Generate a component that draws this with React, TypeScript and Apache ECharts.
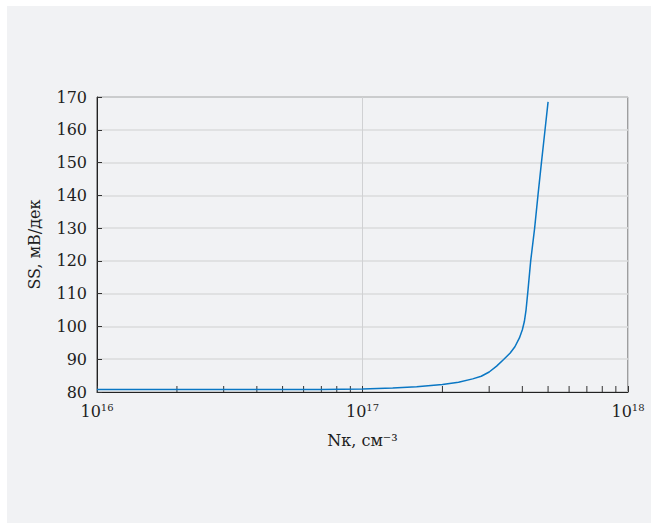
import React, { useEffect, useRef } from "react";
import * as echarts from "echarts";

// Doping concentration (cm^-3) and subthreshold swing (mV/dec)
const concentration = [
  1e16, 2e16, 3e16, 5e16, 7e16, 1e17, 1.3e17, 1.6e17, 2e17, 2.3e17, 2.6e17,
  2.8e17, 3.0e17, 3.2e17, 3.4e17, 3.6e17, 3.75e17, 3.9e17, 4.0e17, 4.07e17,
  4.13e17, 4.2e17, 4.3e17, 4.45e17, 4.58e17, 4.72e17, 4.87e17, 5.0e17,
];
const swing = [
  80.8, 80.8, 80.8, 80.8, 80.8, 80.9, 81.2, 81.6, 82.3, 83.0, 84.0, 84.8, 86.1,
  87.9, 89.9, 91.9, 93.8, 96.5, 99.0, 101.5, 105, 111, 120, 130, 140, 150, 160,
  168.5,
];

// Minor tick positions on the logarithmic x axis
const minorTicks = [
  2e16, 3e16, 4e16, 5e16, 6e16, 7e16, 8e16, 9e16,
  2e17, 3e17, 4e17, 5e17, 6e17, 7e17, 8e17, 9e17,
];

const xMin = 1e16;
const xMax = 1e18;
const yMin = 80;
const yMax = 170;
const yStep = 10;

export default function App() {
  const ref = useRef<HTMLDivElement>(null);

  useEffect(() => {
    if (!ref.current) return;
    const chart = echarts.init(ref.current, null, { renderer: "svg" });
    const font = "'DejaVu Serif', serif";
    const ink = "#1e1e1e";
    chart.setOption({
      animation: false,
      backgroundColor: "#f1f2f4",
      textStyle: { fontFamily: font },
      grid: {
        left: 90,
        right: 23,
        top: 91,
        bottom: 131,
        show: true,
        borderColor: "#4a4a4a",
        borderWidth: 1,
        backgroundColor: "transparent",
      },
      xAxis: {
        type: "log",
        logBase: 10,
        min: xMin,
        max: xMax,
        name: "Nк, см⁻³",
        nameLocation: "middle",
        nameGap: 40,
        nameTextStyle: { fontFamily: font, fontSize: 16, color: ink },
        axisLine: { lineStyle: { color: "#222", width: 1 } },
        axisTick: { inside: true, length: 6, lineStyle: { color: "#333" } },
        splitLine: { show: true, lineStyle: { color: "#d0d1d3", width: 1 } },
        axisLabel: {
          margin: 10,
          formatter: (v: number) =>
            "{a|10}{s|" + String(Math.round(Math.log10(v))) + "}",
          rich: {
            a: { fontFamily: font, fontSize: 16, color: ink, lineHeight: 18 },
            s: {
              fontFamily: font,
              fontSize: 10,
              color: ink,
              verticalAlign: "top",
              padding: [0, 0, 8, 0],
              lineHeight: 18,
            },
          },
        },
      },
      yAxis: {
        type: "value",
        min: yMin,
        max: yMax,
        interval: yStep,
        name: "SS, мВ/дек",
        nameLocation: "middle",
        nameGap: 55,
        nameTextStyle: { fontFamily: font, fontSize: 16, color: ink },
        axisLine: { show: true, lineStyle: { color: "#222", width: 1 } },
        axisTick: { show: true, inside: true, length: 5, lineStyle: { color: "#333" } },
        splitLine: { show: true, lineStyle: { color: "#dadbdd", width: 1.5 } },
        axisLabel: { fontFamily: font, fontSize: 16, color: ink, margin: 10 },
      },
      series: [
        {
          type: "custom",
          silent: true,
          data: minorTicks.map((v) => [v, yMin]),
          renderItem: (_params: any, api: any) => {
            const p = api.coord([api.value(0), api.value(1)]);
            return {
              type: "line",
              shape: { x1: p[0], y1: p[1], x2: p[0], y2: p[1] - 6 },
              style: { stroke: "#333", lineWidth: 1 },
            };
          },
          z: 3,
        },
        {
          type: "line",
          data: concentration.map((c, i) => [c, swing[i]]),
          showSymbol: false,
          smooth: false,
          lineStyle: { color: "#0a77c4", width: 1.5 },
          z: 4,
        },
      ],
    });
    return () => chart.dispose();
  }, []);

  return (
    <div
      ref={ref}
      style={{ position: "absolute", left: 7, top: 6, width: 644, height: 517 }}
    />
  );
}
